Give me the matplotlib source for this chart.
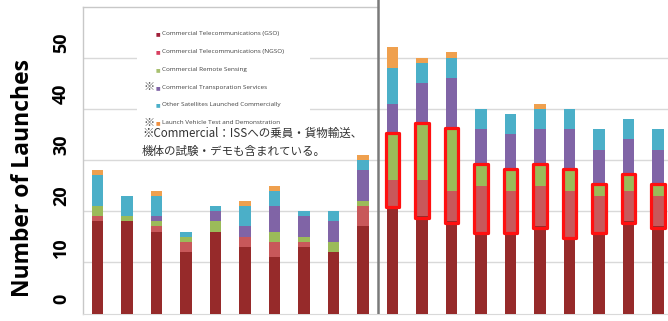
import matplotlib
matplotlib.use("Agg")
import matplotlib.pyplot as plt
import matplotlib.transforms as mtransforms
from matplotlib.patches import Rectangle
import numpy as np

# ---- data ----
series_names = [
    "Commercial Telecommunications (GSO)",
    "Commercial Telecommunications (NGSO)",
    "Commercial Remote Sensing",
    "Commerical Transporation Services",
    "Other Satellites Launched Commercially",
    "Launch Vehicle Test and Demonstration",
]
series_marks = ["", "", "", "※", "", "※"]
gso   = [18, 18, 16, 12, 16, 13, 11, 13, 12, 17, 21, 19, 18, 16, 16, 17, 15, 16, 18, 17]
ngso  = [1, 0, 1, 2, 0, 2, 3, 1, 0, 4, 5, 7, 6, 9, 8, 8, 9, 7, 6, 6]
rs    = [2, 1, 1, 1, 2, 0, 2, 1, 2, 1, 9, 11, 12, 4, 4, 4, 4, 2, 3, 2]
trans = [0, 0, 1, 0, 2, 2, 5, 4, 4, 6, 6, 8, 10, 7, 7, 7, 8, 7, 7, 7]
other = [6, 4, 4, 1, 1, 4, 3, 1, 2, 2, 7, 4, 4, 4, 4, 4, 4, 4, 4, 4]
test  = [1, 0, 1, 0, 0, 1, 1, 0, 0, 1, 4, 1, 1, 0, 0, 1, 0, 0, 0, 0]
highlight = [False] * 10 + [True] * 10
yticks = [0, 10, 20, 30, 40, 50]
ylabel = "Number of Launches"
note_lines = ["※Commercial：ISSへの乗員・貨物輸送、", "機体の試験・デモも含まれている。"]

colors = ["#962A2A", "#C8585A", "#9BBB59", "#8064A6", "#4BAFC8", "#EFA04E"]
legend_marker_colors = ["#A0203A", "#D84060", "#A8C070", "#8064A6", "#4BAFC8", "#F09040"]

W, H = 668, 321
fig = plt.figure(figsize=(W / 100, H / 100), dpi=100)

def fx(px):
    return px / W

def fy(py):
    return 1 - py / H

ax = fig.add_axes([fx(83), fy(313.5), 1 - fx(83), 313.5 / H])
ax.set_xlim(-0.49, 19.34)
ax.set_ylim(0, 313.5 / 5.12)

x = np.arange(len(gso))
data = [gso, ngso, rs, trans, other, test]
bottom = np.zeros(len(gso))
for vals, c in zip(data, colors):
    v = np.array(vals, dtype=float)
    ax.bar(x, v, width=0.39, bottom=bottom, color=c, zorder=3, linewidth=0)
    bottom += v

# red highlight boxes around NGSO + remote sensing
hx = [xi for xi, h in zip(x, highlight) if h]
hb = [gso[i] - 0.25 for i in hx]
hh = [ngso[i] + rs[i] + 0.5 for i in hx]
ax.bar(hx, hh, width=0.47, bottom=hb, fill=False, edgecolor="#FF1010",
       linewidth=2.3, zorder=4, joinstyle="round")

# grid
for t in yticks[1:]:
    ax.axhline(t, color="#D9D9D9", lw=1.0, zorder=1)

# frame
for s in ["top", "right", "left"]:
    ax.spines[s].set_visible(False)
ax.spines["bottom"].set_color("#D9D9D9")
ax.set_xticks([])
ax.set_yticks([])
top_v = (313.5 - 7) / 5.12
ax.plot([-0.49, 9.5], [top_v, top_v], color="#C8C8C8", lw=1.0, zorder=2, clip_on=False)
ax.plot([-0.49, -0.49], [0, top_v], color="#C8C8C8", lw=1.0, zorder=2, clip_on=False)
ax.axvline(9.5, color="#7A7A7A", lw=1.8, zorder=5)

# y tick labels (shifted upward as in the reference)
off = mtransforms.ScaledTranslation(0, 15 / 100, fig.dpi_scale_trans)
tr = mtransforms.blended_transform_factory(fig.transFigure, ax.transData) + off
for t in yticks:
    ax.text(fx(61), t, str(t), transform=tr, rotation=90, ha="center", va="center",
            fontsize=13, fontweight="bold", family="Open Sans", color="#000000", clip_on=False)

fig.text(fx(23), fy(178), ylabel, rotation=90, ha="center", va="center",
         fontsize=16.5, fontweight="bold", family="Open Sans", color="#000000")

# legend area
ax.add_patch(Rectangle((fx(137), fy(156)), fx(310) - fx(137), fy(14) - fy(156),
                       transform=fig.transFigure, facecolor="white", edgecolor="none", zorder=2.5))
ys = [34, 52, 70, 87.5, 105, 122.5]
for name, mark, mc, yy in zip(series_names, series_marks, legend_marker_colors, ys):
    ax.text(fx(158), fy(yy), "■", transform=fig.transFigure, ha="center", va="center",
            fontsize=3.5, color=mc, zorder=6)
    ax.text(fx(162), fy(yy), name, transform=fig.transFigure, ha="left", va="center",
            fontsize=4.6, color="#404040", family="Open Sans", zorder=6)
    if mark:
        ax.text(fx(149), fy(yy), mark, transform=fig.transFigure, ha="center", va="center",
                fontsize=8, color="#555555", family=["Noto Sans CJK JP", "DejaVu Sans"], zorder=6)

for line, yy in zip(note_lines, [133, 151]):
    ax.text(fx(142), fy(yy), line, transform=fig.transFigure, ha="left", va="center",
            fontsize=8.3, color="#333333", family=["Noto Sans CJK JP", "DejaVu Sans"], zorder=6)

fig.savefig("out.png", dpi=100)
